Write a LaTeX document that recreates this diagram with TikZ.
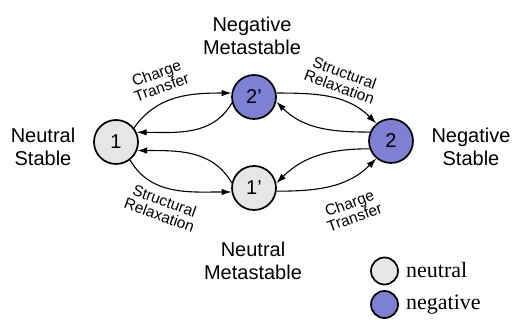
\documentclass[tikz,border=0pt]{standalone}
\usepackage{fontspec}
\setmainfont{Liberation Sans}
\newfontfamily\legendfont{Liberation Serif}
\usetikzlibrary{arrows.meta}
\definecolor{neutralfill}{RGB}{230,230,230}
\definecolor{negfill}{RGB}{127,127,212}
\tikzset{
  state/.style={circle, draw=black, line width=1.7pt, minimum size=44pt, inner sep=0pt, font=\fontsize{20}{22}\selectfont},
  neutralstate/.style={state, fill=neutralfill},
  negstate/.style={state, fill=negfill},
  bigtext/.style={align=center, inner sep=0pt, font=\fontsize{20}{22.5}\selectfont},
  smalltext/.style={align=center, inner sep=0pt, font=\fontsize{15.5}{15}\selectfont},
  conn/.style={line width=1.1pt, -{Latex[length=10pt,width=6.5pt]}},
  legendcircle/.style={circle, draw=black, line width=1.7pt, minimum size=27pt, inner sep=0pt},
  legendtext/.style={anchor=base west, inner sep=0pt, font=\legendfont\fontsize{22}{24}\selectfont}
}
\begin{document}
\begin{tikzpicture}[x=1pt,y=1pt]
\useasboundingbox (0,0) rectangle (513,320);
% states
\node[neutralstate] (n1)  at (116,178) {1};
\node[negstate]     (n2p) at (254,223) {2’};
\node[negstate]     (n2)  at (391,179) {2};
\node[neutralstate] (n1p) at (254,132) {1’};
% state labels
\node[bigtext, anchor=center] (lNM)  at (252,284) {Negative\\Metastable};
\node[bigtext, anchor=center] (lNS)  at (43,173) {Neutral\\Stable};
\node[bigtext, anchor=center] (lNgS) at (471,173) {Negative\\Stable};
\node[bigtext, anchor=center] (lNtM) at (253,59) {Neutral\\Metastable};
% transitions
\draw[conn] (n1.38)   to[out=55,in=180]  (n2p.170);
\draw[conn] (n2p.195) to[out=240,in=0]   (n1.25);
\draw[conn] (n2p.10)  to[out=0,in=135]   (n2.130);
\draw[conn] (n2.157)  to[out=180,in=-45] (n2p.-12);
\draw[conn] (n1p.167) to[out=120,in=0]   (n1.-22);
\draw[conn] (n1.-52)  to[out=-60,in=180] (n1p.190);
\draw[conn] (n2.200)  to[out=180,in=45]  (n1p.12);
\draw[conn] (n1p.-8)  to[out=0,in=225]   (n2.230);
% transition labels
\node[smalltext, rotate=20]  (tCT1) at (159,240) {Charge\\Transfer};
\node[smalltext, rotate=-20] (tSR1) at (342,240) {Structural\\Relaxation};
\node[smalltext, rotate=-20] (tSR2) at (162,112) {Structural\\Relaxation};
\node[smalltext, rotate=20]  (tCT2) at (352,110) {Charge\\Transfer};
% legend
\node[legendcircle, fill=neutralfill] (legN) at (384.5,49) {};
\node[legendcircle, fill=negfill]     (legG) at (384.5,15.5) {};
\node[legendtext] (legNt) at (406,42) {neutral};
\node[legendtext] (legGt) at (406,10) {negative};
\end{tikzpicture}
\end{document}
